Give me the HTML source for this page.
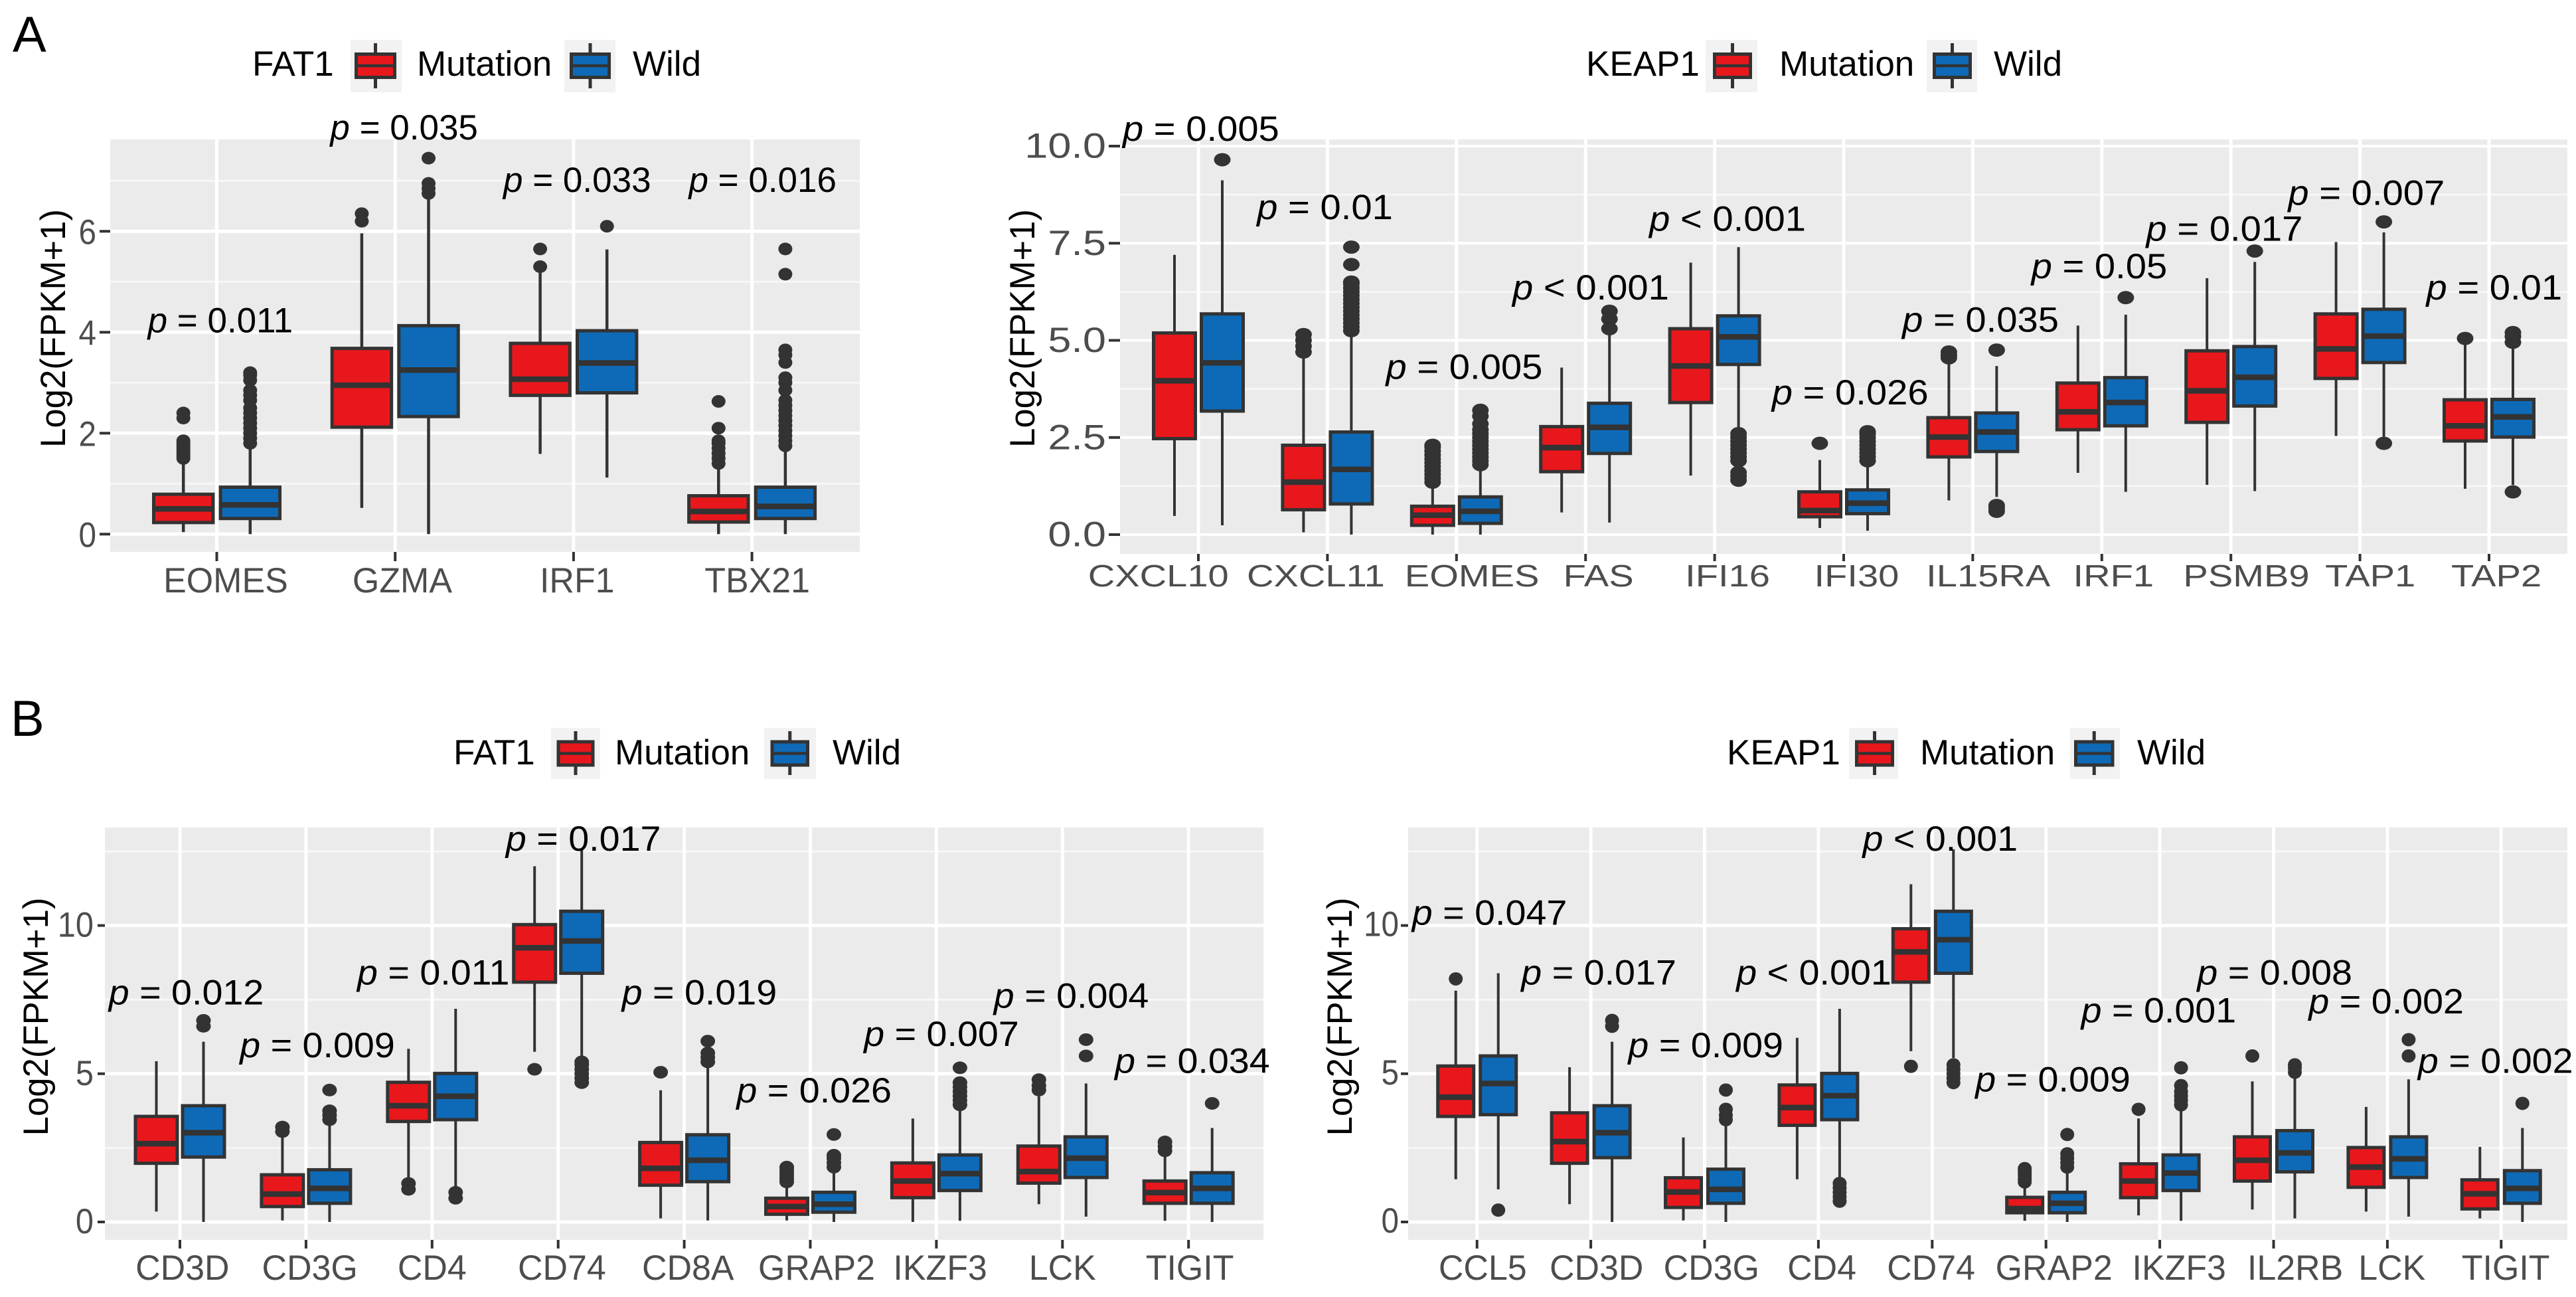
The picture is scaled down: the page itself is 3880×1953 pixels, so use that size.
<!DOCTYPE html>
<html lang="en">
<head>
<meta charset="utf-8">
<title>FAT1 and KEAP1 mutation box plots</title>
<style>
html,body{margin:0;padding:0;background:#fff;}
svg{display:block;font-family:"Liberation Sans",sans-serif;}
</style>
</head>
<body>
<svg id="figure" xmlns="http://www.w3.org/2000/svg" width="3880" height="1953" viewBox="0 0 3880 1953">
<rect width="3880" height="1953" fill="#ffffff"/>
<text x="19" y="78" font-size="76" fill="#000">A</text>
<text x="16" y="1108" font-size="76" fill="#000">B</text>
</svg>
<script>
// ---------- Panel A, FAT1 ----------
const a1Categories = ['EOMES','GZMA','IRF1','TBX21'];
const a1YTicks = [0,2,4,6];
const a1YTickLabels = ['0','2','4','6'];
const a1YMinor = [1,3,5,7];
const a1Mutation = [[0.04,0.23,0.5,0.79,1.43],[0.52,2.12,2.95,3.68,5.96],[1.59,2.75,3.07,3.78,5.2],[0,0.24,0.45,0.76,1.37]];
const a1Wild = [[0,0.31,0.58,0.93,1.77],[0,2.33,3.25,4.13,6.7],[1.12,2.8,3.39,4.03,5.64],[0,0.31,0.55,0.93,1.73]];
const a1MutationOutliers = [[1.5,1.55,1.6,1.65,1.7,1.75,1.8,1.85,2.3,2.4],[6.2,6.35],[5.3,5.65],[1.4,1.5,1.6,1.7,1.8,1.85,2.1,2.63]];
const a1WildOutliers = [[1.8,1.9,2,2.1,2.2,2.3,2.4,2.5,2.65,2.75,2.85,3.05,3.15,3.2],[6.75,6.85,6.95,7.45],[6.1],[1.75,1.85,1.95,2.05,2.15,2.25,2.35,2.45,2.55,2.65,2.85,3,3.1,3.4,3.55,3.65,5.15,5.65]];
const a1PLabels = ['= 0.011','= 0.035','= 0.033','= 0.016'];
const a1PHeights = [4.0,7.82,6.78,6.78];
const a1PNudge = [0.02,0.05,0.02,0.06];
const a1LabelNudge = [0.05,0.04,0.02,0.03];

// ---------- Panel A, KEAP1 ----------
const a2Categories = ['CXCL10','CXCL11','EOMES','FAS','IFI16','IFI30','IL15RA','IRF1','PSMB9','TAP1','TAP2'];
const a2YTicks = [0,2.5,5,7.5,10];
const a2YTickLabels = ['0.0','2.5','5.0','7.5','10.0'];
const a2YMinor = [1.25,3.75,6.25,8.75];
const a2Mutation = [[0.48,2.47,3.96,5.19,7.2],[0.06,0.64,1.35,2.3,4.6],[0,0.24,0.5,0.73,1.26],[0.57,1.62,2.24,2.78,4.3],[1.52,3.4,4.34,5.3,7],[0.17,0.46,0.62,1.1,1.92],[0.88,2,2.51,3.01,4.5],[1.59,2.7,3.16,3.9,5.38],[1.28,2.89,3.7,4.73,6.6],[2.54,4.02,4.78,5.68,7.53],[1.18,2.41,2.8,3.47,4.91]];
const a2Wild = [[0.24,3.18,4.42,5.68,9.12],[0,0.79,1.68,2.64,5.2],[0,0.29,0.6,0.97,1.77],[0.31,2.09,2.76,3.38,5.17],[2.63,4.38,5.09,5.63,7.4],[0.1,0.54,0.81,1.15,1.85],[0.97,2.14,2.64,3.13,4.34],[1.1,2.8,3.4,4.04,5.66],[1.12,3.31,4.05,4.84,7.02],[2.52,4.43,5.11,5.8,7.78],[1.28,2.51,3.03,3.48,4.86]];
const a2MutationOutliers = [[],[4.7,4.85,5,5.15],[1.35,1.45,1.55,1.65,1.75,1.85,1.95,2.05,2.15,2.25,2.3],[],[],[2.35],[4.55,4.62,4.7],[],[],[],[5.05]];
const a2WildOutliers = [[9.65],[5.25,5.35,5.45,5.55,5.65,5.75,5.85,5.95,6.05,6.15,6.25,6.35,6.45,6.5,6.95,7.4],[1.8,1.9,2,2.1,2.2,2.3,2.4,2.5,2.6,2.7,2.85,3.05,3.2],[5.3,5.55,5.75],[1.4,1.5,1.6,1.9,2,2.1,2.2,2.3,2.4,2.5,2.6],[1.9,2,2.1,2.2,2.3,2.4,2.5,2.6,2.65],[0.6,0.68,0.75,4.75],[6.1],[7.3],[2.35,8.05],[1.1,4.95,5.1,5.2]];
const a2PLabels = ['= 0.005','= 0.01','= 0.005','< 0.001','< 0.001','= 0.026','= 0.035','= 0.05','= 0.017','= 0.007','= 0.01'];
const a2PHeights = [10.14,8.12,4.01,6.05,7.82,3.35,5.22,6.6,7.56,8.49,6.05];
const a2PNudge = [0.02,-0.02,0.06,0.04,0.10,0.05,0.06,-0.02,-0.05,0.05,0.04];
const a2LabelNudge = [-0.31,-0.09,0.12,0.10,0.10,0.10,0.12,0.09,0.12,0.08,0.057];

// ---------- Panel B, FAT1 ----------
const b1Categories = ['CD3D','CD3G','CD4','CD74','CD8A','GRAP2','IKZF3','LCK','TIGIT'];
const b1YTicks = [0,5,10];
const b1YTickLabels = ['0','5','10'];
const b1YMinor = [2.5,7.5,12.5];
const b1Mutation = [[0.35,1.98,2.64,3.56,5.42],[0.05,0.52,0.94,1.59,2.87],[1.5,3.39,3.92,4.71,5.84],[5.74,8.09,9.25,10.03,12],[0.12,1.24,1.81,2.68,4.44],[0.05,0.26,0.52,0.8,1.3],[0,0.82,1.38,1.99,3.49],[0.6,1.31,1.7,2.56,4.24],[0.04,0.63,0.99,1.38,2.33]];
const b1Wild = [[0,2.19,3.01,3.92,6.08],[0,0.63,1.13,1.76,3.3],[1.17,3.45,4.24,5.01,7.19],[5.53,8.39,9.48,10.48,12.55],[0.05,1.36,2.08,2.94,5.26],[0,0.33,0.6,1,1.78],[0.04,1.06,1.63,2.26,3.9],[0.18,1.5,2.15,2.87,4.67],[0,0.63,1.13,1.66,3.17]];
const b1MutationOutliers = [[],[3.05,3.2],[1.1,1.3],[5.15],[5.05],[1.35,1.45,1.55,1.65,1.75,1.85],[],[4.45,4.6,4.8],[2.4,2.55,2.7]];
const b1WildOutliers = [[6.6,6.8],[3.45,3.6,3.75,4.45],[0.8,1],[4.7,4.85,5,5.15,5.3,5.4],[5.4,5.55,5.7,6.1],[1.85,2,2.15,2.25,2.95],[3.95,4.1,4.25,4.4,4.55,4.7,5.2],[5.6,6.15],[4]];
const b1PLabels = ['= 0.012','= 0.009','= 0.011','= 0.017','= 0.019','= 0.026','= 0.007','= 0.004','= 0.034'];
const b1PHeights = [7.34,5.56,8.01,12.52,7.34,4.03,5.94,7.23,5.03];
const b1PNudge = [0.05,0.09,0.01,0.20,0.12,0.03,0.04,0.07,0.03];
const b1LabelNudge = [0.02,0.03,0,0.03,0.03,0.05,0.03,0,0.01];

// ---------- Panel B, KEAP1 ----------
const b2Categories = ['CCL5','CD3D','CD3G','CD4','CD74','GRAP2','IKZF3','IL2RB','LCK','TIGIT'];
const b2YTicks = [0,5,10];
const b2YTickLabels = ['0','5','10'];
const b2YMinor = [2.5,7.5,12.5];
const b2Mutation = [[1.44,3.56,4.21,5.26,7.8],[0.6,1.98,2.71,3.68,5.22],[0.05,0.49,1.01,1.49,2.85],[1.44,3.26,3.86,4.62,6.21],[5.76,8.09,9.11,9.89,11.39],[0.04,0.31,0.45,0.83,1.3],[0.22,0.82,1.38,1.96,3.49],[0.42,1.38,2.08,2.87,4.74],[0.35,1.17,1.85,2.51,3.88],[0.12,0.44,0.95,1.42,2.53]];
const b2Wild = [[1.1,3.62,4.67,5.6,8.39],[0,2.17,3.01,3.92,6.08],[0,0.63,1.1,1.78,3.32],[1.44,3.45,4.26,5.01,7.19],[5.53,8.39,9.52,10.48,12.57],[0,0.31,0.63,1,1.72],[0.04,1.06,1.65,2.26,3.9],[0.12,1.69,2.33,3.08,4.92],[0.18,1.5,2.13,2.87,4.81],[0,0.63,1.13,1.73,3.17]];
const b2MutationOutliers = [[8.2],[],[],[],[5.25],[1.35,1.45,1.55,1.65,1.75,1.8],[3.8],[5.6],[],[]];
const b2WildOutliers = [[0.4],[6.6,6.8],[3.45,3.6,3.8,4.45],[0.7,0.85,1,1.15,1.3],[4.7,4.85,5,5.15,5.3],[1.85,2,2.15,2.3,2.95],[3.95,4.1,4.25,4.4,4.6,5.2],[5.05,5.2,5.3],[5.6,6.15],[4]];
const b2PLabels = ['= 0.047','= 0.017','= 0.009','< 0.001','< 0.001','= 0.009','= 0.001','= 0.008','= 0.002','= 0.002'];
const b2PHeights = [10.03,8.01,5.56,8.01,12.52,4.4,6.73,8.01,7.03,5.03];
const b2PNudge = [0.11,0.07,0.01,-0.04,0.07,0.06,-0.01,0.01,-0.01,-0.05];
const b2LabelNudge = [0.05,0.05,0.06,0.03,-0.01,0.07,0.17,0.19,0.04,0.04];

const SVG_NS = 'http://www.w3.org/2000/svg';
const figure = document.getElementById('figure');
const RED = '#e8171c';
const BLUE = '#0e6ab7';
const DARK = '#333333';

function make(tag, attrs, parent, text) {
  const el = document.createElementNS(SVG_NS, tag);
  for (const k in attrs) el.setAttribute(k, attrs[k]);
  if (text !== undefined) el.textContent = text;
  (parent || figure).appendChild(el);
  return el;
}

function drawBox(g, stats, outliers, cx, cfg, yOf, fill) {
  const low = stats[0], q1 = stats[1], med = stats[2], q3 = stats[3], high = stats[4];
  const whisker = make('line', {x1:cx, x2:cx, y1:yOf(low), y2:yOf(high), stroke:DARK, 'stroke-width':cfg.whiskerWidth}, g);
  
  
  const box = make('rect', {x:cx-cfg.halfWidth, y:yOf(q3), width:cfg.halfWidth*2, height:yOf(q1)-yOf(q3), fill:fill, stroke:DARK, 'stroke-width':5}, g);
  
  
  const median = make('line', {x1:cx-cfg.halfWidth, x2:cx+cfg.halfWidth, y1:yOf(med), y2:yOf(med), stroke:DARK, 'stroke-width':8.5}, g);
  
  
  outliers.forEach(function (v) {
    const dot = make('ellipse', {cx:cx, cy:yOf(v), rx:cfg.dotRx, ry:cfg.dotRy, fill:DARK}, g);
    
    
  });
}

function drawPanel(cfg) {
  const yOf = function (v) { return cfg.y0 - v * cfg.unit; };
  const xOf = function (i) { return cfg.x0 + i * cfg.step; };

  const panel = make('g', {});
  
  

  const bg = make('rect', {x:cfg.left, y:cfg.top, width:cfg.right-cfg.left, height:cfg.bottom-cfg.top, fill:'#ebebeb'}, panel);
  
  

  cfg.minor.forEach(function (v) {
    const line = make('line', {x1:cfg.left, x2:cfg.right, y1:yOf(v), y2:yOf(v), stroke:'#f7f7f7', 'stroke-width':3}, panel);
    
    
  });
  cfg.ticks.forEach(function (v, i) {
    const line = make('line', {x1:cfg.left, x2:cfg.right, y1:yOf(v), y2:yOf(v), stroke:'#ffffff', 'stroke-width':cfg.majorWidth}, panel);
    
    
    const tick = make('line', {x1:cfg.left-cfg.yTickLen, x2:cfg.left, y1:yOf(v), y2:yOf(v), stroke:DARK, 'stroke-width':4}, panel);
    
    
    const label = make('text', {transform:'translate(' + cfg.yLabelRight + ',' + (yOf(v) + cfg.yBaseOffset) + ') scale(' + cfg.yStretch + ',1)', 'text-anchor':'end', 'font-size':53, fill:'#4d4d4d'}, panel, cfg.tickLabels[i]);
    
    
  });

  cfg.categories.forEach(function (name, i) {
    const x = xOf(i);
    const grid = make('line', {x1:x, x2:x, y1:cfg.top, y2:cfg.bottom, stroke:'#ffffff', 'stroke-width':5}, panel);
    
    
    const tick = make('line', {x1:x, x2:x, y1:cfg.bottom, y2:cfg.bottom+cfg.xTickLen, stroke:DARK, 'stroke-width':4}, panel);
    
    
    const label = make('text', {transform:'translate(' + (x + cfg.labelNudge[i] * cfg.step) + ',' + cfg.xBase + ') scale(' + cfg.xStretch + ',1)', 'text-anchor':'middle', 'font-size':cfg.xFont, fill:'#4d4d4d'}, panel, name);
    
    
  });

  cfg.categories.forEach(function (name, i) {
    const group = make('g', {}, panel);
    
    
    drawBox(group, cfg.mutation[i], cfg.mutationOut[i], xOf(i) - cfg.dodge, cfg, yOf, RED);
    drawBox(group, cfg.wild[i], cfg.wildOut[i], xOf(i) + cfg.dodge, cfg, yOf, BLUE);
  });

  cfg.pLabels.forEach(function (txt, i) {
    const x = xOf(i) + cfg.pNudge[i] * cfg.step;
    const t = make('text', {transform:'translate(' + x + ',' + yOf(cfg.pHeights[i]) + ') scale(' + cfg.pStretch + ',1)', 'text-anchor':'middle', 'font-size':53, fill:'#000'}, panel);
    
    
    make('tspan', {'font-style':'italic'}, t, 'p');
    make('tspan', {}, t, ' ' + txt);
  });

  const title = make('text', {transform:'translate(' + cfg.titleX + ',' + cfg.titleY + ') rotate(-90)', 'text-anchor':'middle', 'font-size':53, textLength:359, lengthAdjust:'spacingAndGlyphs', fill:'#000'}, panel, 'Log2(FPKM+1)');
  
  
}

function drawLegendKey(g, left, right, boxLeft, boxRight, L, fill, name) {
  const midX = (boxLeft + boxRight) / 2;
  const midY = (L.boxTop + L.boxBottom) / 2;
  const key = make('g', {}, g);
  
  
  const bg = make('rect', {x:left, y:L.bgTop, width:right-left, height:L.bgBottom-L.bgTop, fill:'#f2f2f2'}, key);
  
  
  const whisker = make('line', {x1:midX, x2:midX, y1:L.bgTop+5, y2:L.bgBottom-6, stroke:DARK, 'stroke-width':5}, key);
  
  
  const box = make('rect', {x:boxLeft, y:L.boxTop, width:boxRight-boxLeft, height:L.boxBottom-L.boxTop, fill:fill, stroke:DARK, 'stroke-width':5}, key);
  
  
  const med = make('line', {x1:boxLeft, x2:boxRight, y1:midY, y2:midY, stroke:DARK, 'stroke-width':4.5}, key);
  
  
}

function drawLegend(L) {
  const g = make('g', {});
  
  
  const title = make('text', {x:L.titleX, y:L.base, 'font-size':53, fill:'#000'}, g, L.title);
  
  
  drawLegendKey(g, L.k1[0], L.k1[1], L.k1[2], L.k1[3], L, RED, 'legend-key-mutation');
  const mut = make('text', {x:L.mutX, y:L.base, 'font-size':53, fill:'#000'}, g, 'Mutation');
  
  
  drawLegendKey(g, L.k2[0], L.k2[1], L.k2[2], L.k2[3], L, BLUE, 'legend-key-wild');
  const wild = make('text', {x:L.wildX, y:L.base, 'font-size':53, fill:'#000'}, g, 'Wild');
  
  
}

drawPanel({name:'panel-a-fat1', left:166, right:1295, top:210, bottom:831, y0:804.3, unit:76, x0:326.5, step:268.7, dodge:50.3, halfWidth:44.7,
  whiskerWidth:4.5, dotRx:10.5, dotRy:9.5, yTickLen:16, xTickLen:14, majorWidth:5, yLabelRight:145, yBaseOffset:19, yStretch:0.9, xBase:892, xFont:53, xStretch:0.98, pStretch:1,
  titleX:98, titleY:494.5, categories:a1Categories, ticks:a1YTicks, tickLabels:a1YTickLabels, minor:a1YMinor, mutation:a1Mutation, wild:a1Wild,
  mutationOut:a1MutationOutliers, wildOut:a1WildOutliers, pLabels:a1PLabels, pHeights:a1PHeights, pNudge:a1PNudge, labelNudge:a1LabelNudge});

drawPanel({name:'panel-a-keap1', left:1687, right:3867, top:210, bottom:834, y0:805, unit:58.5, x0:1805, step:194.4, dodge:36, halfWidth:31.5,
  whiskerWidth:4, dotRx:12.5, dotRy:10, yTickLen:17, xTickLen:11, majorWidth:4, yLabelRight:1666, yBaseOffset:17.5, yStretch:1.19, xBase:883, xFont:46, xStretch:1.22, pStretch:1.06,
  titleX:1558, titleY:494.5, categories:a2Categories, ticks:a2YTicks, tickLabels:a2YTickLabels, minor:a2YMinor, mutation:a2Mutation, wild:a2Wild,
  mutationOut:a2MutationOutliers, wildOut:a2WildOutliers, pLabels:a2PLabels, pHeights:a2PHeights, pNudge:a2PNudge, labelNudge:a2LabelNudge});

drawPanel({name:'panel-b-fat1', left:158, right:1903, top:1246, bottom:1867, y0:1840, unit:44.64, x0:271, step:189.9, dodge:35.5, halfWidth:31.5,
  whiskerWidth:4, dotRx:11, dotRy:9.5, yTickLen:11, xTickLen:13, majorWidth:5, yLabelRight:141, yBaseOffset:17, yStretch:0.92, xBase:1927, xFont:53, xStretch:0.98, pStretch:1.05,
  titleX:72, titleY:1531, categories:b1Categories, ticks:b1YTicks, tickLabels:b1YTickLabels, minor:b1YMinor, mutation:b1Mutation, wild:b1Wild,
  mutationOut:b1MutationOutliers, wildOut:b1WildOutliers, pLabels:b1PLabels, pHeights:b1PHeights, pNudge:b1PNudge, labelNudge:b1LabelNudge});

drawPanel({name:'panel-b-keap1', left:2121, right:3867, top:1246, bottom:1867, y0:1840, unit:44.64, x0:2224.7, step:171.4, dodge:32, halfWidth:27,
  whiskerWidth:4, dotRx:10.5, dotRy:10, yTickLen:11, xTickLen:13, majorWidth:5, yLabelRight:2107, yBaseOffset:16, yStretch:0.9, xBase:1927, xFont:53, xStretch:0.98, pStretch:1.05,
  titleX:2036, titleY:1531, categories:b2Categories, ticks:b2YTicks, tickLabels:b2YTickLabels, minor:b2YMinor, mutation:b2Mutation, wild:b2Wild,
  mutationOut:b2MutationOutliers, wildOut:b2WildOutliers, pLabels:b2PLabels, pHeights:b2PHeights, pNudge:b2PNudge, labelNudge:b2LabelNudge});

drawLegend({name:'legend-a-fat1', title:'FAT1', titleX:380, base:114, mutX:628, wildX:953, bgTop:60, bgBottom:139, boxTop:81.5, boxBottom:116.5,
  k1:[528,605,536.5,594.5], k2:[850,927,860.5,917.5]});
drawLegend({name:'legend-a-keap1', title:'KEAP1', titleX:2389, base:114, mutX:2680, wildX:3003, bgTop:60, bgBottom:139, boxTop:81.5, boxBottom:116.5,
  k1:[2569,2647,2582.5,2636.5], k2:[2902,2978,2913.5,2967.5]});
drawLegend({name:'legend-b-fat1', title:'FAT1', titleX:683, base:1151, mutX:926, wildX:1254, bgTop:1096, bgBottom:1173, boxTop:1117, boxBottom:1152,
  k1:[830,904,841,893], k2:[1151,1229,1163,1216.5]});
drawLegend({name:'legend-b-keap1', title:'KEAP1', titleX:2601, base:1151, mutX:2892, wildX:3219, bgTop:1096, bgBottom:1173, boxTop:1117, boxBottom:1152,
  k1:[2785,2859,2796.5,2850.5], k2:[3118,3193,3126.5,3182]});
</script>
</body>
</html>
